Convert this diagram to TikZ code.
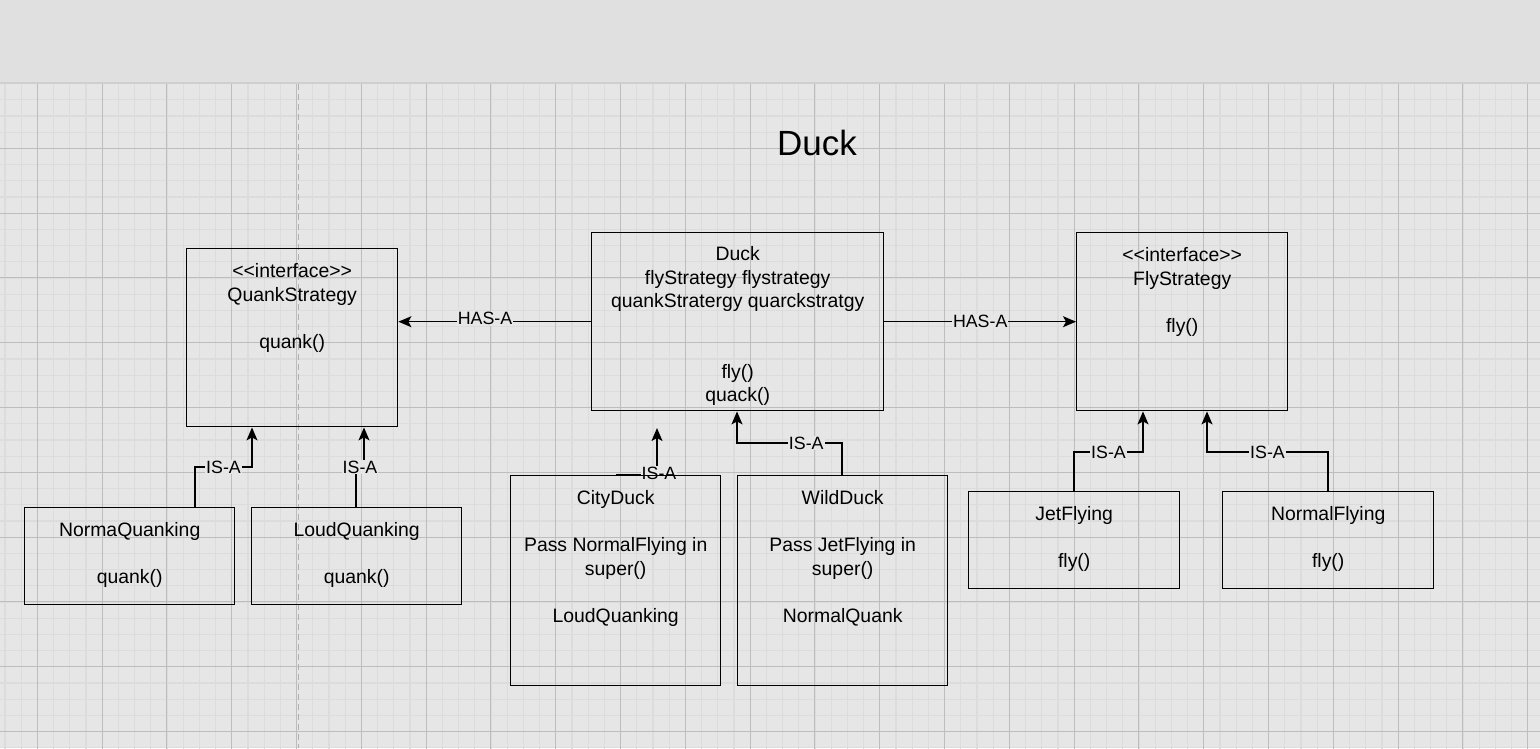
\documentclass[tikz,border=0pt]{standalone}
\usepackage{fontspec}
\setmainfont{Liberation Sans}
\usetikzlibrary{arrows.meta}
\definecolor{bandgray}{HTML}{E0E0E0}
\definecolor{bandline}{HTML}{CFCFCF}
\definecolor{paper}{HTML}{E6E6E6}
\definecolor{minorgrid}{HTML}{DCDCDC}
\definecolor{majorgrid}{HTML}{BDBDBD}
\definecolor{dashgray}{HTML}{B0B0B0}
\newcommand{\umlfont}{\fontsize{19.4}{23.5}\selectfont}
\newcommand{\linkfont}{\fontsize{17.8}{21}\selectfont}
\newcommand{\stereo}[1]{<\kern0pt<#1>\kern0pt>}
\pgfdeclarelayer{back}
\pgfdeclarelayer{mid}
\pgfsetlayers{back,mid,main}

\begin{document}
\begin{tikzpicture}[x=1pt,y=-1pt,
        box/.style={draw,line width=1.4pt,anchor=north west,inner sep=0pt},
        boxtext/.style={anchor=north,align=center,yshift=-12pt,font=\umlfont},
        conn/.style={line width=1.4pt,-{Stealth[length=13pt,width=11pt,inset=3pt]}},
        rel/.style={fill=paper,inner sep=1pt,font=\linkfont}]
        \useasboundingbox (0,0) rectangle (1540,748);
        \begin{pgfonlayer}{back}
            \fill[paper] (0,0) rectangle (1540,748);
            \fill[bandgray] (0,0) rectangle (1540,82);
            \draw[bandline,line width=2pt] (0,82.5) -- (1540,82.5);
            \foreach \i in {0,...,94} \draw[minorgrid,line width=1.2pt] ({4.9+16.2*\i},83.5) -- ++(0,665);
            \foreach \j in {1,...,41} \draw[minorgrid,line width=1.2pt] (0,{83.5+16.2*\j}) -- ++(1540,0);
            \foreach \i in {0,...,23} \draw[majorgrid,line width=1pt] ({37.3+64.8*\i},83.5) -- ++(0,665);
            \foreach \j in {1,...,10} \draw[majorgrid,line width=1pt] (0,{83.5+64.8*\j}) -- ++(1540,0);
            \draw[dashgray,line width=1.5pt,dash pattern=on 6pt off 4pt] (298.7,84) -- (298.7,748);
        \end{pgfonlayer}

        \node[font=\fontsize{35}{42}\selectfont] (title) at (817,143) {Duck};

        \node[box,minimum width=211pt,minimum height=178pt,
            label={[boxtext]north:{\stereo{interface}\\QuankStrategy\\[23.5pt]quank()}}] (quank) at (186,248) {};
        \node[box,minimum width=210pt,minimum height=97pt,
            label={[boxtext]north:{NormaQuanking\\[23.5pt]quank()}}] (normq) at (24,507) {};
        \node[box,minimum width=210pt,minimum height=97pt,
            label={[boxtext]north:{LoudQuanking\\[23.5pt]quank()}}] (loudq) at (251,507) {};
        \node[box,minimum width=292pt,minimum height=178pt,
            label={[boxtext,yshift=1pt]north:{Duck\\flyStrategy flystrategy\\quankStratergy quarckstratgy\\[47pt]fly()\\quack()}}] (duck) at (591,232) {};
        \node[box,minimum width=210pt,minimum height=210pt,
            label={[boxtext]north:{CityDuck\\[23.5pt]Pass NormalFlying in\\super()\\[23.5pt]LoudQuanking}}] (city) at (510,475) {};
        \node[box,minimum width=210pt,minimum height=210pt,
            label={[boxtext]north:{WildDuck\\[23.5pt]Pass JetFlying in\\super()\\[23.5pt]NormalQuank}}] (wild) at (737,475) {};
        \node[box,minimum width=211pt,minimum height=178pt,
            label={[boxtext]north:{\stereo{interface}\\FlyStrategy\\[23.5pt]fly()}}] (fly) at (1076,232) {};
        \node[box,minimum width=211pt,minimum height=97pt,
            label={[boxtext]north:{JetFlying\\[23.5pt]fly()}}] (jet) at (968,491) {};
        \node[box,minimum width=211pt,minimum height=97pt,
            label={[boxtext]north:{NormalFlying\\[23.5pt]fly()}}] (normf) at (1222,491) {};
        \coordinate (cityhead) at (657,428);

        \begin{pgfonlayer}{mid}
            \draw[conn] (duck.west) -- node[rel,pos=0.55,yshift=3pt]{HAS-A} (duck.west -| quank.east);
            \draw[conn] (duck.east) -- node[rel]{HAS-A} (fly.west);
            \draw[conn] ([xshift=171pt]normq.north west) -- ++(0,-40) -| node[rel,pos=0.25]{IS-A} ([xshift=66pt]quank.south west);
            \draw[conn] ([xshift=105pt]loudq.north west) -- ++(0,-40) -- node[rel]{IS-A} ++(8,0) -- ([xshift=178pt]quank.south west);
            \draw[conn] (city.north) -| node[rel,pos=0.5,xshift=2pt,yshift=2pt]{IS-A} (cityhead);
            \draw[conn] ([xshift=105pt]wild.north west) -- ++(0,-32) -| node[rel,pos=0.17]{IS-A} ([xshift=146pt]duck.south west);
            \draw[conn] ([xshift=106pt]jet.north west) -- ++(0,-39) -| node[rel,pos=0.25]{IS-A} ([xshift=67pt]fly.south west);
            \draw[conn] ([xshift=106pt]normf.north west) -- ++(0,-39) -| node[rel,pos=0.25]{IS-A} ([xshift=131pt]fly.south west);
        \end{pgfonlayer}
\end{tikzpicture}
\end{document}
